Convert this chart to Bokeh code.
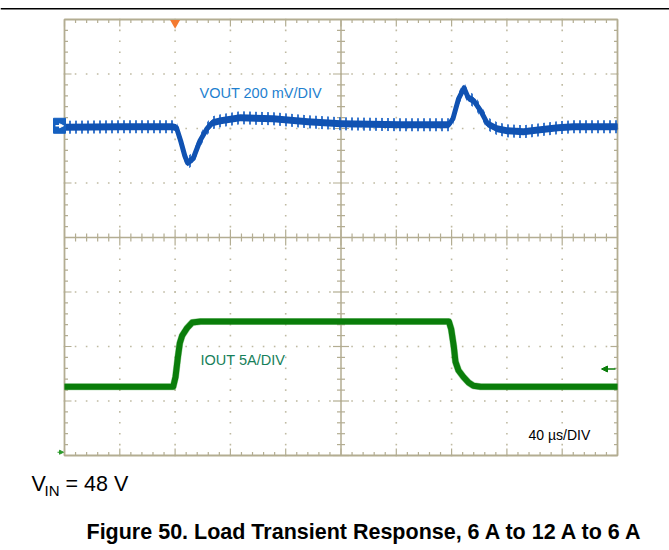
import numpy as np
from bokeh.plotting import figure
from bokeh.models import Range1d, Arrow, NormalHead
from bokeh.core.properties import value
from bokeh.embed import file_html
from bokeh.resources import INLINE

# ---------------- data ----------------
TIME_US_PER_DIV = 40
VOUT_MV_PER_DIV = 200
IOUT_A_PER_DIV = 5
VOUT_REF_DIV = 2.05      # channel-1 reference marker level (divisions)
IOUT_ZERO_DIV = -3.94    # channel-2 ground marker level (divisions)

VOUT_T_US = [0, 40, 78, 81, 84, 87, 89, 93, 98, 103, 107, 113, 127, 151, 176,
             200, 243, 278, 281, 285, 289, 292, 296, 301, 306, 313, 320, 332,
             344, 357, 368, 400]
VOUT_DEV_MV = [-5, -4, -4, -7, -55, -110, -136, -121, -55, -11, 11, 18, 29, 26,
               15, 7, 4, 4, 26, 99, 139, 103, 92, 55, 7, -11, -18, -22, -15, -7,
               -4, -4]

IOUT_T_US = [0, 78.6, 80.3, 82, 83.4, 85.1, 88.7, 92.4, 98.4, 278, 279.7, 281.6,
             282.8, 285, 288.6, 292.2, 295.8, 301, 400]
IOUT_A = [6.0, 6.0, 6.9, 8.7, 10.0, 10.7, 11.4, 11.9, 12.0, 12.0, 11.3, 9.7,
          8.3, 7.5, 6.9, 6.4, 6.1, 6.0, 6.0]

TRIGGER_T_US = 80

VOUT_LABEL = "VOUT 200 mV/DIV"
IOUT_LABEL = "IOUT 5A/DIV"
TIME_LABEL = "40 \u00b5s/DIV"
VIN_MAIN, VIN_SUB, VIN_REST = "V", "IN", "= 48 V"
CAPTION = "Figure 50. Load Transient Response, 6 A to 12 A to 6 A"

# ---------------- layout ----------------
FIG_W, FIG_H = 669, 550
PAGE_OFF = 0
FR_L, FR_R, FR_T, FR_B = 64, 617, 19, 455   # scope frame inside the figure (px)
NX, NY = 10, 8
X_SPAN = NX * TIME_US_PER_DIV
PX_X = X_SPAN / (FR_R - FR_L)
PX_Y = NY / (FR_B - FR_T)

x_range = Range1d(-FR_L * PX_X, X_SPAN + (FIG_W - FR_R) * PX_X)
y_range = Range1d(-NY / 2 - (FIG_H - FR_B) * PX_Y, NY / 2 + FR_T * PX_Y)


def fx(px):  # page pixel -> data x
    return (px - PAGE_OFF - FR_L) * PX_X


def fy(py):  # page pixel -> data y
    return NY / 2 - (py - PAGE_OFF - FR_T) * PX_Y


p = figure(width=FIG_W, height=FIG_H, x_range=x_range, y_range=y_range,
           output_backend="svg", toolbar_location=None, min_border=0,
           x_axis_type=None, y_axis_type=None)
p.outline_line_color = None
p.grid.visible = False
p.background_fill_color = "white"
p.border_fill_color = "white"

FRAME = "#b3ad92"
DOT = "#bfbaa2"
FONT = value("Liberation Sans")

# top rule
p.segment(x0=[x_range.start], x1=[x_range.end], y0=[fy(8.2)], y1=[fy(8.2)],
          line_color="black", line_width=1.6)

# dotted grid
dx, dy = [], []
step = 0.2
for i in range(1, NX):
    if i == NX // 2:
        continue
    for k in range(int(NY / step) + 1):
        dx.append(i * TIME_US_PER_DIV)
        dy.append(-NY / 2 + k * step)
for j in range(1, NY):
    yv = -NY / 2 + j
    if yv == 0:
        continue
    for k in range(int(NX / step) + 1):
        dx.append(k * step * TIME_US_PER_DIV)
        dy.append(yv)
p.scatter(dx, dy, marker="square", size=1.6, color=DOT, line_width=0)

# ticks
sx0, sx1, sy0, sy1 = [], [], [], []
minor, major = 3.5, 7.0
for k in range(int(NX / step) + 1):
    xv = k * step * TIME_US_PER_DIV
    is_major = abs(k * step - round(k * step)) < 1e-6
    L = (major if is_major else minor) * PX_Y
    sx0 += [xv, xv]; sx1 += [xv, xv]
    sy0 += [NY / 2, -NY / 2]; sy1 += [NY / 2 - L, -NY / 2 + L]
    C = (8 if is_major else 4) * PX_Y
    sx0.append(xv); sx1.append(xv); sy0.append(-C); sy1.append(C)
for k in range(int(NY / step) + 1):
    yv = -NY / 2 + k * step
    is_major = abs(k * step - round(k * step)) < 1e-6
    L = (major if is_major else minor) * PX_X
    sy0 += [yv, yv]; sy1 += [yv, yv]
    sx0 += [0, X_SPAN]; sx1 += [L, X_SPAN - L]
    C = (8 if is_major else 4) * PX_X
    sy0.append(yv); sy1.append(yv)
    sx0.append(X_SPAN / 2 - C); sx1.append(X_SPAN / 2 + C)
p.segment(x0=sx0, x1=sx1, y0=sy0, y1=sy1, line_color=FRAME, line_width=1.2)

# centre lines and frame
p.segment(x0=[X_SPAN / 2, 0], x1=[X_SPAN / 2, X_SPAN], y0=[-NY / 2, 0], y1=[NY / 2, 0],
          line_color=FRAME, line_width=1.5)
p.quad(left=[0], right=[X_SPAN], bottom=[-NY / 2], top=[NY / 2],
       fill_color=None, line_color=FRAME, line_width=1.8)

# VOUT trace
vt = np.array(VOUT_T_US, dtype=float)
vy = VOUT_REF_DIV + np.array(VOUT_DEV_MV, dtype=float) / VOUT_MV_PER_DIV
outer, core = 6.5 * PX_Y, 3.5 * PX_Y
p.varea(x=vt, y1=vy - outer, y2=vy + outer, fill_color=None,
        hatch_pattern="vertical_line", hatch_scale=6, hatch_weight=1.8,
        hatch_color="#2469c8")
p.varea(x=vt, y1=vy - core, y2=vy + core, fill_color="#1052b2")
p.line(vt, vy, line_width=5, color="#1052b2", line_join="round")

# IOUT trace
it = np.array(IOUT_T_US, dtype=float)
iy = IOUT_ZERO_DIV + np.array(IOUT_A, dtype=float) / IOUT_A_PER_DIV
p.line(it, iy, line_width=7, color="#3fa83f", line_join="round", alpha=0.5)
p.line(it, iy, line_width=6, color="#0a7d0a", line_join="round")

# markers
p.scatter([TRIGGER_T_US], [NY / 2 - 3.5 * PX_Y], marker="inverted_triangle",
          size=10, color="#f47a30", line_width=0)
p.rect(x=[fx(59)], y=[VOUT_REF_DIV], width=12, height=15, width_units="screen",
       height_units="screen", fill_color="#1560c0", line_color="#1560c0")
p.add_layout(Arrow(end=NormalHead(size=4, fill_color="white", line_color="white"),
                   x_start=fx(55), y_start=VOUT_REF_DIV, x_end=fx(63), y_end=VOUT_REF_DIV,
                   line_color="white", line_width=1.5))
p.add_layout(Arrow(end=NormalHead(size=6, fill_color="#0a7d0a", line_color="#0a7d0a"),
                   x_start=fx(615), y_start=fy(368.5), x_end=fx(601), y_end=fy(368.5),
                   line_color="#0a7d0a", line_width=1.5))
p.add_layout(Arrow(end=NormalHead(size=4, fill_color="#2a9a2a", line_color="#2a9a2a"),
                   x_start=fx(57), y_start=IOUT_ZERO_DIV, x_end=fx(63), y_end=IOUT_ZERO_DIV,
                   line_color="#2a9a2a", line_width=1.2))

# texts
def txt(x, y, s, size, color="black", style="normal"):
    p.text(x=[x], y=[y], text=[s], text_font=FONT, text_font_size=size,
           text_color=color, text_baseline="alphabetic", text_align="left",
           text_font_style=style)

txt(fx(199), fy(92.5), VOUT_LABEL, "14.5px", "#1e7fcf")
txt(fx(200), fy(359.5), IOUT_LABEL, "14.5px", "#17805a")
txt(fx(528), fy(434), TIME_LABEL, "14px")
txt(fx(31), fy(483.5), VIN_MAIN, "21.5px")
txt(fx(44), fy(490), VIN_SUB, "15px")
txt(fx(65), fy(483.5), VIN_REST, "21.5px")
txt(fx(86), fy(531.5), CAPTION, "21.5px", style="bold")

open("out.html", "w").write(file_html(p, INLINE))
